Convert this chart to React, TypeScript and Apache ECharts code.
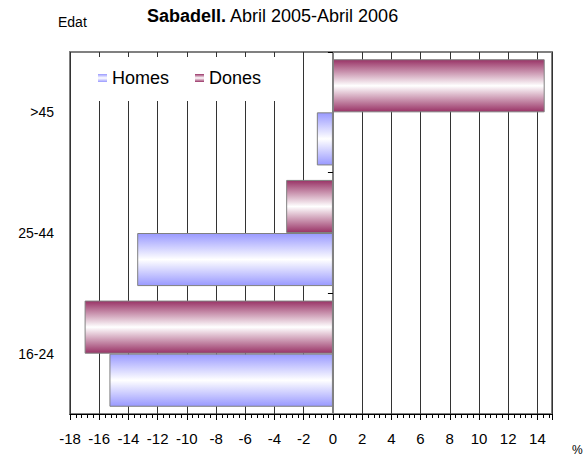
import React, { useEffect, useRef } from "react";
import * as echarts from "echarts";

const categories = ["16-24", "25-44", ">45"];
const homes = [-15.3, -13.4, -1.1];
const dones = [-17.0, -3.2, 14.5];
const seriesNames = ["Homes", "Dones"];
const xMin = -18;
const xMax = 15;
const xStep = 2;

const FONT = "Liberation Sans, Arial, sans-serif";

function grad(c: string) {
  return new echarts.graphic.LinearGradient(0, 0, 0, 1, [
    { offset: 0, color: c },
    { offset: 0.5, color: "#ffffff" },
    { offset: 1, color: c },
  ]);
}

export default function App() {
  const ref = useRef<HTMLDivElement>(null);
  useEffect(() => {
    if (!ref.current) return;
    const chart = echarts.init(ref.current, undefined, { renderer: "svg" });
    chart.setOption({
      animation: false,
      backgroundColor: "#ffffff",
      textStyle: { fontFamily: FONT },
      title: {
        left: 142,
        top: 2,
        text: "{b|Sabadell.}{n| Abril 2005-Abril 2006}",
        textStyle: {
          fontWeight: "normal",
          fontSize: 18,
          rich: {
            b: { fontFamily: FONT, fontSize: 18, fontWeight: "bold", color: "#000" },
            n: { fontFamily: FONT, fontSize: 18, fontWeight: "normal", color: "#000" },
          },
        },
      },
      graphic: [
        { type: "text", left: 58, top: 15, style: { text: "Edat", fontFamily: FONT, fontSize: 14, fill: "#000" } },
        { type: "text", left: 572, top: 444, style: { text: "%", fontFamily: FONT, fontSize: 12, fill: "#000" } },
      ],
      legend: {
        left: 71,
        top: 57,
        padding: [12, 22, 14, 27],
        backgroundColor: "#ffffff",
        icon: "rect",
        itemWidth: 9,
        itemHeight: 8,
        itemGap: 26,
        data: seriesNames,
        itemStyle: { borderWidth: 0 },
        textStyle: { fontFamily: FONT, fontSize: 18, color: "#000" },
      },
      grid: {
        left: 70,
        top: 52,
        width: 482,
        height: 362,
        show: true,
        borderColor: "#808080",
        borderWidth: 2,
        backgroundColor: "transparent",
      },
      xAxis: {
        type: "value",
        min: xMin,
        max: xMax,
        interval: xStep,
        axisLine: { show: true, onZero: false, lineStyle: { color: "#000", width: 1 } },
        axisTick: { show: true, length: 6, lineStyle: { color: "#000" } },
        minorTick: { show: true, splitNumber: 5, length: 4, lineStyle: { color: "#000" } },
        splitLine: { show: true, lineStyle: { color: "#333", width: 1 } },
        axisLabel: {
          margin: 17,
          fontFamily: FONT,
          fontSize: 15,
          color: "#000",
          formatter: (v: number) => (v === xMax ? "" : String(v)),
        },
      },
      yAxis: [
        {
          type: "category",
          data: categories,
          axisLine: { show: false, onZero: false },
          axisTick: { show: false },
          axisLabel: { margin: 16, fontFamily: FONT, fontSize: 14, color: "#000" },
        },
        {
          type: "category",
          data: categories,
          position: "left",
          axisLine: { show: true, onZero: true, lineStyle: { color: "#808080", width: 2 } },
          axisTick: { show: true, length: 5, lineStyle: { color: "#000" } },
          axisLabel: { show: false },
          splitLine: { show: false },
        },
      ],
      series: [
        {
          name: seriesNames[1],
          type: "bar",
          yAxisIndex: 0,
          data: dones,
          barGap: "0%",
          barCategoryGap: "12%",
          itemStyle: { color: grad("#993366"), borderColor: "#808080", borderWidth: 1 },
        },
        {
          name: seriesNames[0],
          type: "bar",
          yAxisIndex: 0,
          data: homes,
          barGap: "0%",
          barCategoryGap: "12%",
          itemStyle: { color: grad("#9999ff"), borderColor: "#808080", borderWidth: 1 },
        },
      ],
    });
    return () => chart.dispose();
  }, []);
  return (
    <div
      ref={ref}
      style={{ position: "fixed", left: 0, top: 0, width: 584, height: 459 }}
    />
  );
}
